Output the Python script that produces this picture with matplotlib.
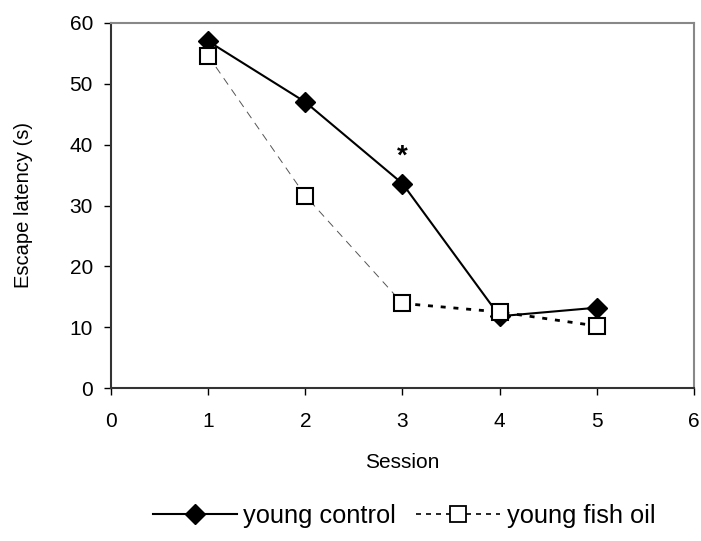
import matplotlib.pyplot as plt
from matplotlib.lines import Line2D

plt.rcParams['font.family'] = ['Liberation Sans', 'DejaVu Sans']

# data
sessions = [1, 2, 3, 4, 5]
young_control = [57.0, 47.0, 33.6, 11.8, 13.2]
young_fish_oil = [54.6, 31.6, 13.9, 12.5, 10.2]
star_session = 3
star_value = 38.0

fig = plt.figure(figsize=(7.01, 5.41), dpi=100)
ax = fig.add_axes([111 / 701, 1 - 388 / 541, 583 / 701, 365 / 541])

# fish oil: first two segments come out thin/grey in the original, last two thick
ax.plot(sessions[:3], young_fish_oil[:3], color='#555555', lw=0.7,
        ls=(0, (8, 6)), zorder=2)
ax.plot(sessions[2:], young_fish_oil[2:], color='black', lw=2.0,
        ls=(0, (1.8, 2.8)), zorder=2)
ax.plot(sessions, young_control, color='black', lw=1.5, marker='D',
        markersize=10, markerfacecolor='black', markeredgecolor='black', zorder=3)
ax.plot(sessions, young_fish_oil, ls='none', marker='s', markersize=12,
        markerfacecolor='white', markeredgecolor='black', markeredgewidth=1.5,
        zorder=4)

ax.text(star_session, star_value, '*', ha='center', va='center',
        fontsize=20, fontweight='bold')

ax.set_xlim(0, 6)
ax.set_ylim(0, 60)
ax.set_xticks(range(0, 7))
ax.set_yticks(range(0, 61, 10))
ax.tick_params(direction='out', length=5, width=1, labelsize=15)
ax.tick_params(axis='y', pad=8)
ax.tick_params(axis='x', pad=12)
for s in ['left', 'bottom']:
    ax.spines[s].set_color('#333333')
    ax.spines[s].set_linewidth(1.5)
for s in ['top', 'right']:
    ax.spines[s].set_color('#888888')
    ax.spines[s].set_linewidth(1.5)

ax.set_xlabel('Session', fontsize=15, labelpad=16)
ax.set_ylabel('Escape latency (s)', fontsize=14.5, labelpad=26)

handles = [
    Line2D([], [], color='black', lw=1.5, marker='D', markersize=10),
    Line2D([], [], color='black', lw=1.2, ls=(0, (3, 3)), marker='s',
           markersize=11, markerfacecolor='white', markeredgewidth=1.3),
]
fig.legend(handles, ['young control', 'young fish oil'], loc='center',
           bbox_to_anchor=(404 / 701, 1 - 516 / 541), ncol=2, frameon=False,
           fontsize=18.3, handlelength=3.3, handletextpad=0.25,
           columnspacing=0.8, borderpad=0)

fig.savefig('out.png', dpi=100)
